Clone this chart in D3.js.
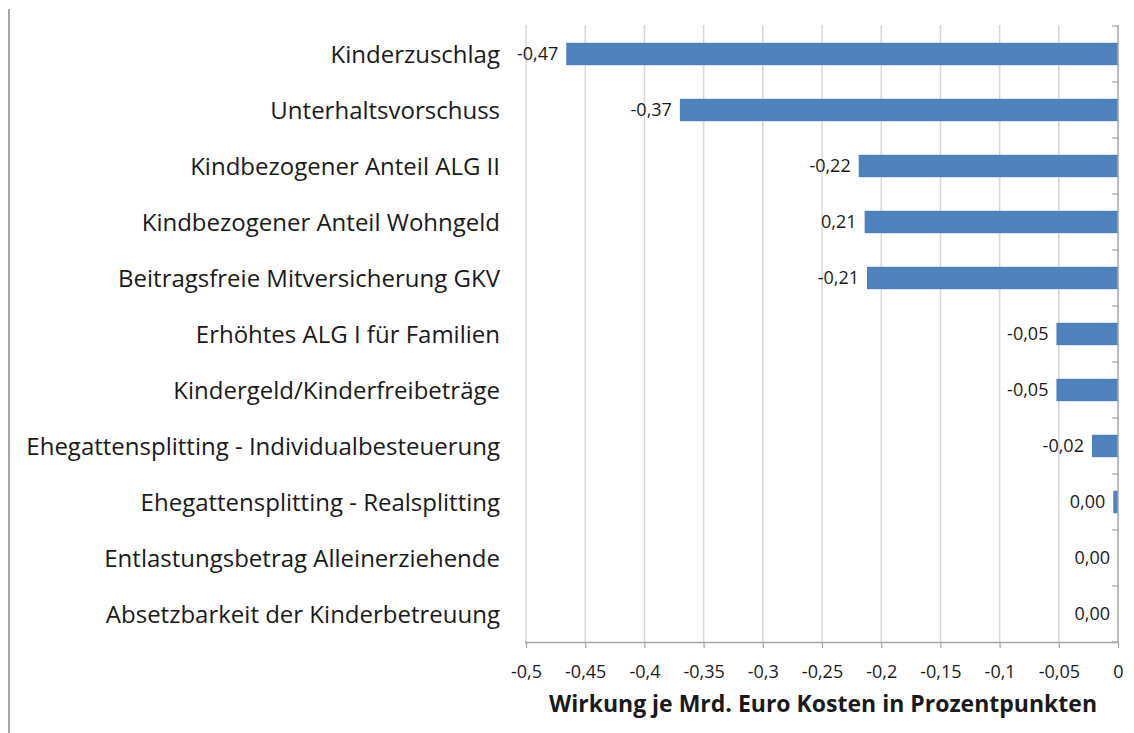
<!DOCTYPE html>
<html>
<head>
<meta charset="utf-8">
<script src="https://cdn.jsdelivr.net/npm/d3@7"></script>
<style>
  body { margin: 0; background: #fff; }
  text { font-family: "Open Sans", "Noto Sans", sans-serif; fill: #1a1a1a; }
</style>
</head>
<body>
<script>
// categories, top to bottom
const categories = [
  'Kinderzuschlag',
  'Unterhaltsvorschuss',
  'Kindbezogener Anteil ALG II',
  'Kindbezogener Anteil Wohngeld',
  'Beitragsfreie Mitversicherung GKV',
  'Erhöhtes ALG I für Familien',
  'Kindergeld/Kinderfreibeträge',
  'Ehegattensplitting - Individualbesteuerung',
  'Ehegattensplitting - Realsplitting',
  'Entlastungsbetrag Alleinerziehende',
  'Absetzbarkeit der Kinderbetreuung'
];

// values
const values = [-0.466, -0.370, -0.219, -0.214, -0.212, -0.052, -0.052, -0.022, -0.004, 0, 0];

// labels as printed next to the bars
const valueLabels = ['-0,47', '-0,37', '-0,22', '0,21', '-0,21', '-0,05', '-0,05', '-0,02', '0,00', '0,00', '0,00'];

const tickValues = [-0.5, -0.45, -0.4, -0.35, -0.3, -0.25, -0.2, -0.15, -0.1, -0.05, 0];
const axisTitle = 'Wirkung je Mrd. Euro Kosten in Prozentpunkten';

let width = 1134,
  height = 733;

let svg = d3.select('body').append('svg')
  .attr('width', width)
  .attr('height', height);

let x = d3.scaleLinear()
  .domain([-0.5, 0])
  .range([526, 1118]);

let y = d3.scaleBand()
  .domain(categories)
  .range([26, 642])
  .paddingInner(0.6)
  .paddingOuter(0.3);

// frame line on the left
svg.append('line')
  .attr('x1', 9).attr('x2', 9)
  .attr('y1', 9).attr('y2', height)
  .style('stroke', '#a6a6a6')
  .style('stroke-width', 2);

// vertical gridlines
svg.selectAll('.grid')
  .data(tickValues.slice(0, -1))
  .enter()
  .append('line')
  .attr('class', 'grid')
  .attr('x1', d => x(d)).attr('x2', d => x(d))
  .attr('y1', 25).attr('y2', 642)
  .style('stroke', '#d9d9d9')
  .style('stroke-width', 1.5);

// bars
svg.selectAll('.bar')
  .data(values)
  .enter()
  .append('rect')
  .attr('class', 'bar')
  .attr('x', d => x(d))
  .attr('y', (d, i) => y(categories[i]))
  .attr('width', d => x(0) - x(d))
  .attr('height', y.bandwidth())
  .style('fill', '#4f81bd');

// value labels
svg.selectAll('.vlabel')
  .data(values)
  .enter()
  .append('text')
  .attr('class', 'vlabel')
  .attr('x', d => x(d) - 8)
  .attr('y', (d, i) => y(categories[i]) + y.bandwidth() / 2)
  .attr('dy', '0.36em')
  .attr('text-anchor', 'end')
  .style('font-size', '18px')
  .text((d, i) => valueLabels[i]);

// category axis at zero, ticks between bands
svg.append('line')
  .attr('x1', x(0)).attr('x2', x(0))
  .attr('y1', 25).attr('y2', 642)
  .style('stroke', '#a6a6a6')
  .style('stroke-width', 1.5);

let step = (642 - 26) / categories.length;
svg.selectAll('.ytick')
  .data(d3.range(categories.length + 1))
  .enter()
  .append('line')
  .attr('class', 'ytick')
  .attr('x1', x(0) - 6).attr('x2', x(0))
  .attr('y1', i => 26 + i * step).attr('y2', i => 26 + i * step)
  .style('stroke', '#a6a6a6')
  .style('stroke-width', 1.2);

// category labels
svg.selectAll('.clabel')
  .data(categories)
  .enter()
  .append('text')
  .attr('class', 'clabel')
  .attr('x', 500)
  .attr('y', d => y(d) + y.bandwidth() / 2)
  .attr('dy', '0.36em')
  .attr('text-anchor', 'end')
  .style('font-size', '24px')
  .text(d => d);

// bottom axis
let xAxis = d3.axisBottom(x)
  .tickValues(tickValues)
  .tickSize(6)
  .tickPadding(17)
  .tickFormat(d => String(+d.toFixed(2)).replace('.', ','));

let gx = svg.append('g')
  .attr('transform', 'translate(0,642)')
  .call(xAxis);

gx.select('.domain')
  .attr('d', 'M' + (x(-0.5) - 1) + ',0.5H' + (x(0) + 1))
  .style('stroke', '#a6a6a6')
  .style('stroke-width', 1.5);
gx.selectAll('.tick line')
  .style('stroke', '#a6a6a6')
  .style('stroke-width', 1.2);
gx.selectAll('.tick text')
  .style('font-size', '18px')
  .style('font-family', '"Open Sans", "Noto Sans", sans-serif')
  .style('fill', '#1a1a1a');

// axis title
svg.append('text')
  .attr('x', 823)
  .attr('y', 712)
  .attr('text-anchor', 'middle')
  .style('font-size', '23px')
  .style('font-weight', 'bold')
  .text(axisTitle);
</script>
</body>
</html>
